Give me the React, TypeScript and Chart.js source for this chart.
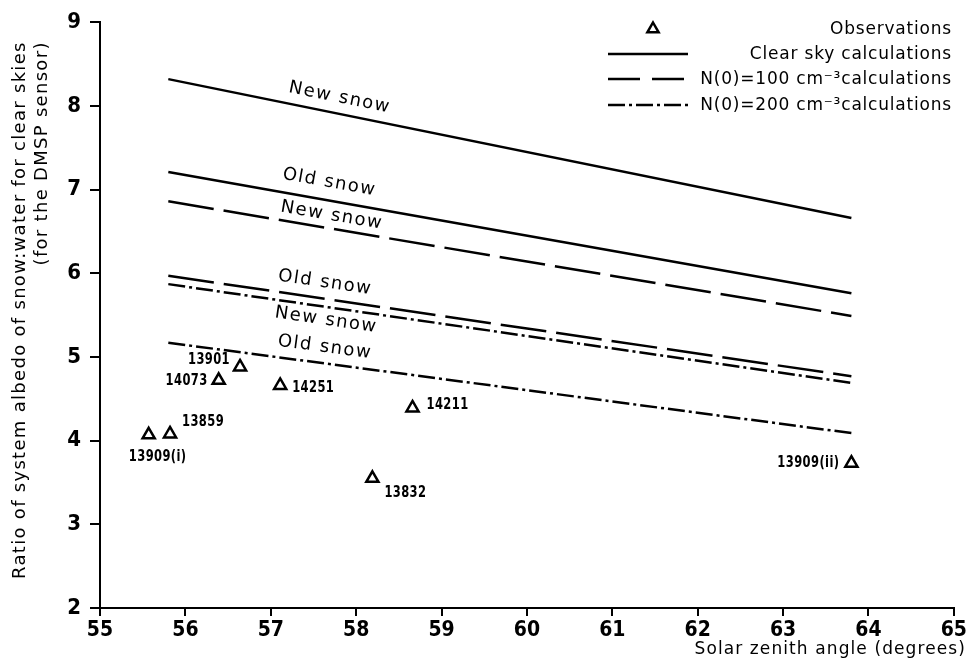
import React, { useEffect, useRef } from "react";
import { Chart, registerables } from "chart.js";

Chart.register(...registerables);

// ---------- data ----------
const xMin = 55;
const xMax = 65;
const yMin = 2;
const yMax = 9;

const calcX = [55.8, 63.8];
const clearNew = [8.32, 6.66];
const clearOld = [7.21, 5.76];
const n100New = [6.86, 5.49];
const n100Old = [5.97, 4.77];
const n200New = [5.87, 4.69];
const n200Old = [5.17, 4.09];

const lineSeries = [clearNew, clearOld, n100New, n100Old, n200New, n200Old];
const lineLabelTexts = ["New snow", "Old snow", "New snow", "Old snow", "New snow", "Old snow"];

const obsNames = ["13909(i)", "13859", "14073", "13901", "14251", "13832", "14211", "13909(ii)"];
const obsX = [55.57, 55.82, 56.39, 56.64, 57.11, 58.19, 58.66, 63.8];
const obsY = [4.07, 4.08, 4.72, 4.88, 4.66, 3.55, 4.39, 3.73];

const legendLabels = [
  "Observations",
  "Clear sky calculations",
  "N(0)=100 cm\u207B\u00B3calculations",
  "N(0)=200 cm\u207B\u00B3calculations",
];
const xTitle = "Solar zenith angle (degrees)";
const yTitle = ["Ratio of system albedo of snow:water for clear skies", "(for the DMSP sensor)"];

// ---------- styles / placement ----------
const FONT = '"DejaVu Sans", sans-serif';
const FONT_C = '"DejaVu Sans Condensed", "DejaVu Sans", sans-serif';
const SOLID: number[] = [];
const DASH = [46, 10];
const DASHDOT = [17, 4, 3, 4];
const lineDashes = [SOLID, SOLID, DASH, DASH, DASHDOT, DASHDOT];

const lineLabelPlace = [
  { x: 57.77, off: -16 },
  { x: 57.65, off: -18 },
  { x: 57.69, off: -13 },
  { x: 57.61, off: -16 },
  { x: 57.67, off: 13 },
  { x: 57.61, off: -16 },
];

const obsLabelPlace = [
  { dx: 9, dy: 22, align: "center" },
  { dx: 12, dy: -12, align: "left" },
  { dx: -11, dy: 0, align: "right" },
  { dx: -10, dy: -7, align: "right" },
  { dx: 12, dy: 2, align: "left" },
  { dx: 12, dy: 15, align: "left" },
  { dx: 14, dy: -3, align: "left" },
  { dx: -12, dy: 0, align: "right" },
];

function drawTriangle(ctx: CanvasRenderingContext2D, x: number, y: number, r: number) {
  ctx.beginPath();
  for (let k = 0; k < 3; k++) {
    const a = (k * 2 * Math.PI) / 3;
    const px = x + Math.sin(a) * r;
    const py = y - Math.cos(a) * r;
    if (k === 0) ctx.moveTo(px, py);
    else ctx.lineTo(px, py);
  }
  ctx.closePath();
  ctx.fillStyle = "#fff";
  ctx.fill();
  ctx.lineWidth = 2.5;
  ctx.strokeStyle = "#000";
  ctx.stroke();
}

const annotate = {
  id: "annotate",
  afterDatasetsDraw(chart: any) {
    const ctx: CanvasRenderingContext2D = chart.ctx;
    const xs = chart.scales.x;
    const ys = chart.scales.y;
    const area = chart.chartArea;
    ctx.save();
    ctx.fillStyle = "#000";

    // line labels, rotated along their lines
    ctx.font = `18px ${FONT}`;
    (ctx as any).letterSpacing = "1.5px";
    ctx.textAlign = "center";
    ctx.textBaseline = "middle";
    lineSeries.forEach((s, i) => {
      const x0 = xs.getPixelForValue(calcX[0]);
      const x1 = xs.getPixelForValue(calcX[1]);
      const y0 = ys.getPixelForValue(s[0]);
      const y1 = ys.getPixelForValue(s[1]);
      const ang = Math.atan2(y1 - y0, x1 - x0);
      const p = lineLabelPlace[i];
      const px = xs.getPixelForValue(p.x);
      const t = (px - x0) / (x1 - x0);
      const py = y0 + t * (y1 - y0);
      ctx.save();
      ctx.translate(px, py);
      ctx.rotate(ang);
      ctx.fillText(lineLabelTexts[i], 0, p.off);
      ctx.restore();
    });

    // observation labels (condensed horizontally)
    ctx.font = `bold 16px ${FONT_C}`;
    (ctx as any).letterSpacing = "0.5px";
    const sx = 0.8;
    obsNames.forEach((name, i) => {
      const p = obsLabelPlace[i];
      const px = xs.getPixelForValue(obsX[i]);
      const py = ys.getPixelForValue(obsY[i]);
      ctx.save();
      ctx.translate(px + p.dx, py + p.dy);
      ctx.scale(sx, 1);
      ctx.textAlign = p.align as CanvasTextAlign;
      ctx.fillText(name, 0, 0);
      ctx.restore();
    });

    // legend
    const textRight = 951;
    const symL = 608;
    const symR = 688;
    const rows = [29, 54, 79, 105];
    ctx.font = `17px ${FONT}`;
    (ctx as any).letterSpacing = "0.8px";
    ctx.textAlign = "right";
    legendLabels.forEach((lab, i) => {
      const y = rows[i];
      if (i === 0) {
        drawTriangle(ctx, (symL + symR) / 2 + 5, y, 6.5);
      } else {
        ctx.beginPath();
        ctx.setLineDash(i === 1 ? SOLID : i === 2 ? [32, 12] : DASHDOT);
        ctx.lineWidth = 2.5;
        ctx.strokeStyle = "#000";
        ctx.moveTo(symL, y);
        ctx.lineTo(symR, y);
        ctx.stroke();
        ctx.setLineDash([]);
      }
      ctx.fillStyle = "#000";
      ctx.fillText(lab, textRight + 1, y + 1);
    });

    // x axis title (right aligned)
    ctx.font = `17px ${FONT}`;
    (ctx as any).letterSpacing = "1.1px";
    ctx.textAlign = "right";
    ctx.fillText(xTitle, 966, 650);

    // y axis title (two lines, rotated)
    ctx.font = `18px ${FONT}`;
    (ctx as any).letterSpacing = "1.3px";
    const midY = (area.top + area.bottom) / 2 - 5;
    ctx.save();
    ctx.translate(20, midY);
    ctx.rotate(-Math.PI / 2);
    ctx.textAlign = "center";
    ctx.fillText(yTitle[0], 0, 0);
    const w0 = ctx.measureText(yTitle[0]).width;
    ctx.textAlign = "right";
    ctx.fillText(yTitle[1], w0 / 2, 22);
    ctx.restore();

    ctx.restore();
  },
};

export default function App() {
  const ref = useRef<HTMLCanvasElement | null>(null);
  useEffect(() => {
    if (!ref.current) return;
    const lineSets = lineSeries.map((s, i) => ({
      type: "line" as const,
      label: `${lineLabelTexts[i]} ${i}`,
      data: calcX.map((x, k) => ({ x, y: s[k] })),
      borderColor: "#000",
      borderWidth: 2.5,
      borderDash: lineDashes[i],
      pointRadius: 0,
      fill: false,
      showLine: true,
    }));
    const obsSet = {
      type: "scatter" as const,
      label: legendLabels[0],
      data: obsX.map((x, k) => ({ x, y: obsY[k] })),
      pointStyle: "triangle",
      pointRadius: 7,
      borderWidth: 2.5,
      borderColor: "#000",
      backgroundColor: "#fff",
      showLine: false,
    };
    const chart = new Chart(ref.current, {
      type: "scatter",
      data: { datasets: [...lineSets, obsSet] as any },
      options: {
        animation: false,
        responsive: false,
        layout: { padding: { left: 0, right: 14, top: 22, bottom: 0 } },
        plugins: { legend: { display: false }, tooltip: { enabled: false } },
        scales: {
          x: {
            type: "linear",
            min: xMin,
            max: xMax,
            ticks: { stepSize: 1, color: "#000", padding: 2, font: { family: FONT_C, size: 21, weight: "bold" } },
            grid: { drawOnChartArea: false, color: "#000", lineWidth: 2, tickLength: 8 },
            border: { color: "#000", width: 2 },
            title: { display: false },
            afterFit(s: any) {
              s.height = 54;
            },
          },
          y: {
            type: "linear",
            min: yMin,
            max: yMax,
            ticks: { stepSize: 1, color: "#000", padding: 9, font: { family: FONT_C, size: 22, weight: "bold" } },
            grid: { drawOnChartArea: false, color: "#000", lineWidth: 2, tickLength: 10 },
            border: { color: "#000", width: 2 },
            title: { display: false },
            afterFit(s: any) {
              s.width = 100;
            },
          },
        },
      } as any,
      plugins: [annotate],
    });
    return () => chart.destroy();
  }, []);
  return (
    <div style={{ position: "fixed", left: 0, top: 0, width: 969, height: 662, background: "#fff" }}>
      <canvas ref={ref} width={969} height={662} style={{ display: "block" }} />
    </div>
  );
}
